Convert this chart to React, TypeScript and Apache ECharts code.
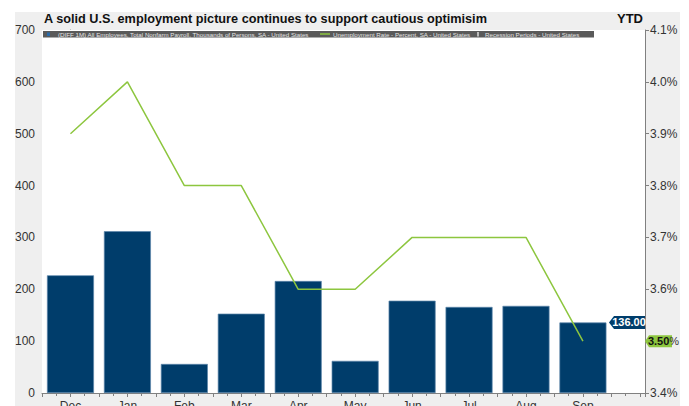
import React, { useEffect, useRef } from "react";
import * as echarts from "echarts";

const months = ["Dec", "Jan", "Feb", "Mar", "Apr", "May", "Jun", "Jul", "Aug", "Sep"];
const payrollChange = [227, 312, 56, 153, 216, 62, 178, 166, 168, 136];
const unemploymentRate = [3.9, 4.0, 3.8, 3.8, 3.6, 3.6, 3.7, 3.7, 3.7, 3.5];
const leftTicks = { min: 0, max: 700, interval: 100 };
const rightTicks = { min: 3.4, max: 4.1, interval: 0.1 };
const titleText = "A solid U.S. employment picture continues to support cautious optimisim";
const legendPayroll = "(DIFF 1M) All Employees, Total Nonfarm Payroll, Thousands of Persons, SA - United States";
const legendUnemp = "Unemployment Rate - Percent, SA - United States";
const legendRecession = "Recession Periods - United States";

const FONT = "Arial, 'Liberation Sans', sans-serif";
const BAR_COLOR = "#003d6b";
const LINE_COLOR = "#8dc63f";
const X_MAX = 10.09;

export default function App() {
  const ref = useRef<HTMLDivElement>(null);
  useEffect(() => {
    if (!ref.current) return;
    const chart = echarts.init(ref.current, undefined, { renderer: "svg" });
    const lastIdx = payrollChange.length - 1;
    const lastRate = unemploymentRate[lastIdx];
    const option: any = {
      animation: false,
      backgroundColor: "#ffffff",
      textStyle: { fontFamily: FONT },
      grid: {
        left: 42,
        right: 44,
        top: 30,
        bottom: 13,
        containLabel: false,
        outerBoundsMode: "none",
        show: true,
        backgroundColor: "#ffffff",
        borderWidth: 0,
        z: 1,
      },
      graphic: [
        { type: "rect", z: -10, silent: true, shape: { x: 15, y: 12, width: 665, height: 394 }, style: { fill: "#efefef" } },
        { type: "text", left: 44, top: 12, style: { text: titleText, font: `bold 12.7px ${FONT}`, fill: "#111" } },
        { type: "text", left: 617, top: 12, style: { text: "YTD", font: `bold 13px ${FONT}`, fill: "#111" } },
        { type: "rect", z: 10, shape: { x: 43, y: 31, width: 551, height: 6.5 }, style: { fill: "#5a5a5a" } },
        { type: "rect", z: 11, shape: { x: 47, y: 32.5, width: 3, height: 3.5 }, style: { fill: "#2a6aa8" } },
        { type: "text", z: 11, x: 58, y: 34.3, style: { text: legendPayroll, font: `6.2px ${FONT}`, fill: "#e6e6e6", verticalAlign: "middle" } },
        { type: "line", z: 11, shape: { x1: 320, y1: 34, x2: 330, y2: 34 }, style: { stroke: LINE_COLOR, lineWidth: 1.5 } },
        { type: "text", z: 11, x: 333, y: 34.3, style: { text: legendUnemp, font: `6.2px ${FONT}`, fill: "#e6e6e6", verticalAlign: "middle" } },
        { type: "rect", z: 11, shape: { x: 477, y: 32, width: 2, height: 4.5 }, style: { fill: "#bbbbbb" } },
        { type: "text", z: 11, x: 485, y: 34.3, style: { text: legendRecession, font: `6.2px ${FONT}`, fill: "#e6e6e6", verticalAlign: "middle" } },
      ],
      xAxis: {
        type: "value",
        min: -0.5,
        max: X_MAX,
        interval: 0.5,
        splitLine: { show: false },
        axisLine: { show: true, onZero: false, lineStyle: { color: "#808080", width: 1 } },
        axisTick: { show: true, inside: false, length: 4, lineStyle: { color: "#808080" } },
        minorTick: { show: true, splitNumber: 2, length: 3, lineStyle: { color: "#808080" } },
        axisLabel: {
          margin: 7,
          fontSize: 12,
          color: "#333",
          fontFamily: FONT,
          showMinLabel: true,
          showMaxLabel: true,
          formatter: (v: number) => {
            const r = Math.round(v);
            if (Math.abs(v - r) < 1e-6 && r >= 0 && r < months.length) return months[r];
            return "";
          },
        },
      },
      yAxis: [
        {
          type: "value",
          position: "left",
          min: leftTicks.min,
          max: leftTicks.max,
          interval: leftTicks.interval,
          splitLine: { show: false },
          axisLine: { show: true, lineStyle: { color: "#808080" } },
          axisTick: { show: true, length: 4, lineStyle: { color: "#808080" } },
          axisLabel: { margin: 7, fontSize: 12, color: "#333", fontFamily: FONT },
        },
        {
          type: "value",
          position: "right",
          min: rightTicks.min,
          max: rightTicks.max,
          interval: rightTicks.interval,
          splitLine: { show: false },
          axisLine: { show: true, lineStyle: { color: "#808080" } },
          axisTick: { show: true, length: 4, lineStyle: { color: "#808080" } },
          axisLabel: {
            margin: 5,
            fontSize: 12,
            color: "#333",
            fontFamily: FONT,
            formatter: (v: number) => (Math.abs(v - lastRate) < 1e-6 ? "" : v.toFixed(1) + "%"),
          },
        },
      ],
      series: [
        {
          name: legendPayroll,
          type: "bar",
          yAxisIndex: 0,
          barWidth: 47,
          z: 2,
          itemStyle: { color: BAR_COLOR, borderColor: "#5d87aa", borderWidth: 0.7 },
          data: payrollChange.map((v, i) => [i, v]),
          markPoint: {
            silent: true,
            symbol: "path://M0,6.5 L5,0 L36,0 L36,13 L5,13 Z",
            symbolSize: [36, 13],
            symbolOffset: [-18, 0],
            itemStyle: { color: BAR_COLOR },
            label: {
              show: true,
              position: "inside",
              offset: [2, 0],
              color: "#ffffff",
              fontWeight: "bold",
              fontSize: 11,
              fontFamily: FONT,
              formatter: () => payrollChange[lastIdx].toFixed(2),
            },
            data: [{ coord: [X_MAX, payrollChange[lastIdx]] }],
          },
        },
        {
          name: legendUnemp,
          type: "line",
          yAxisIndex: 1,
          z: 3,
          symbol: "none",
          lineStyle: { color: LINE_COLOR, width: 1.5 },
          itemStyle: { color: LINE_COLOR },
          data: unemploymentRate.map((v, i) => [i, v]),
          markPoint: {
            silent: true,
            symbol: "path://M0,6 L4,0 L27,0 L27,12 L4,12 Z",
            symbolSize: [27, 12],
            symbolOffset: [13.5, 0],
            itemStyle: { color: LINE_COLOR },
            label: {
              show: true,
              position: "inside",
              offset: [5, 0],
              fontFamily: FONT,
              formatter: () => `{a|${lastRate.toFixed(2)}}{b|%}`,
              rich: {
                a: { color: "#111", fontWeight: "bold", fontSize: 11, fontFamily: FONT },
                b: { color: "#333", fontSize: 11, fontFamily: FONT },
              },
            },
            data: [{ coord: [X_MAX, lastRate] }],
          },
        },
      ],
    };
    chart.setOption(option);
    return () => chart.dispose();
  }, []);
  return (
    <div
      ref={ref}
      style={{ position: "fixed", left: 0, top: 0, width: 689, height: 406 }}
    />
  );
}
